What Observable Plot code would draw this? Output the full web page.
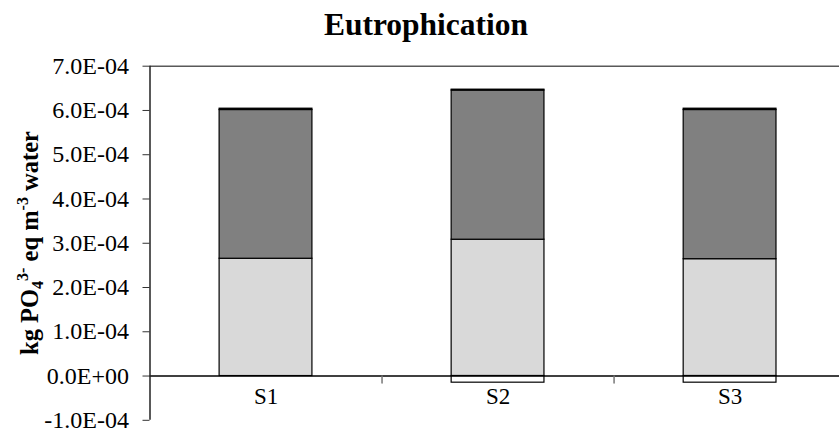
<!DOCTYPE html>
<html>
<head>
<meta charset="utf-8">
<script src="https://cdn.jsdelivr.net/npm/d3@7"></script>
<script src="https://cdn.jsdelivr.net/npm/@observablehq/plot@0.6"></script>
<style>
  html, body { margin: 0; padding: 0; background: #fff; }
  #chart svg { display: block; font-family: "Liberation Serif", "Times New Roman", serif; }
</style>
</head>
<body>
<div id="chart"></div>
<script>
// Scenarios on the category axis
const categories = ["S1", "S2", "S3"];

// Stacked contributions (kg PO4 3- eq per m3 of water)
const lowerValues = [2.65e-4, 3.08e-4, 2.64e-4];   // light grey segment
const upperValues = [3.36e-4, 3.37e-4, 3.37e-4];   // dark grey segment
const capValues = [3e-6, 2e-6, 3e-6];              // thin black segment on top
const negativeValues = [0, -1.5e-5, -1.5e-5];      // white segment below zero

// Y axis tick values
const yTicks = [-1e-4, 0, 1e-4, 2e-4, 3e-4, 4e-4, 5e-4, 6e-4, 7e-4];

// Format like 7.0E-04 / 0.0E+00
function sci(v) {
  const [m, e] = v.toExponential(1).split("e");
  const sign = e[0] === "-" ? "-" : "+";
  const digits = e.replace(/[+-]/, "").padStart(2, "0");
  return `${m}E${sign}${digits}`;
}

// Build stacked rectangles from the arrays above
const segments = [];
categories.forEach((cat, i) => {
  let base = 0;
  const parts = [
    {key: "lower", v: lowerValues[i], fill: "#d9d9d9"},
    {key: "upper", v: upperValues[i], fill: "#808080"},
    {key: "cap", v: capValues[i], fill: "#000000"}
  ];
  for (const p of parts) {
    segments.push({cat, i, y1: base, y2: base + p.v, fill: p.fill, key: p.key});
    base += p.v;
  }
  if (negativeValues[i] < 0) {
    segments.push({cat, i, y1: negativeValues[i], y2: 0, fill: "#ffffff", key: "negative"});
  }
});

const halfBar = 0.2;   // bar width as a fraction of the category step

// Short downward tick between categories on the zero line
const downTick = {
  draw(context, l) {
    context.moveTo(0, 0);
    context.lineTo(0, -l);
  }
};

const plot = Plot.plot({
  width: 839,
  height: 432,
  marginLeft: 149.5,
  marginRight: 0,
  marginTop: 65.7,
  marginBottom: 12.2,
  style: {fontFamily: "Liberation Serif", fontSize: "24px", color: "#000", background: "#fff"},
  x: {type: "linear", domain: [-0.5, 2.5], range: [149.5, 845.6], axis: null},
  y: {domain: [-1e-4, 7e-4], axis: null},
  marks: [
    // top border of the plot area
    Plot.ruleY([7e-4], {stroke: "#595959", strokeWidth: 1.5}),
    Plot.rectY(segments, {
      x1: d => d.i - halfBar,
      x2: d => d.i + halfBar,
      y1: "y1",
      y2: "y2",
      fill: "fill",
      stroke: "#000",
      strokeWidth: 1.2
    }),
    // zero line
    Plot.ruleY([0], {stroke: "#000", strokeWidth: 1.5}),
    // category separators
    Plot.vector([0.5, 1.5], {
      x: d => d, y: 0, length: 7, rotate: 180, anchor: "start",
      shape: downTick, stroke: "#777", strokeWidth: 1.5
    }),
    // category labels
    Plot.text(categories, {x: (d, i) => i, y: 0, dy: 21, text: d => d, fontSize: 23, fill: "#000"}),
    // y axis
    Plot.axisY(yTicks, {
      tickFormat: sci,
      tickSize: 7,
      tickPadding: 14,
      fontSize: 24,
      label: null,
      stroke: "#333"
    }),
    Plot.ruleX([-0.5], {stroke: "#222", strokeWidth: 1.5})
  ]
});

document.getElementById("chart").appendChild(plot);

const svg = d3.select(plot);

// Title
svg.append("text")
  .attr("x", 426)
  .attr("y", 35)
  .attr("text-anchor", "middle")
  .attr("font-family", "Liberation Serif")
  .attr("font-weight", "bold")
  .attr("font-size", 31.5)
  .attr("fill", "#000")
  .text("Eutrophication");

// Y axis title with subscript and superscripts
const yTitle = svg.append("text")
  .attr("transform", "translate(38,243) rotate(-90)")
  .attr("text-anchor", "middle")
  .attr("font-family", "Liberation Serif")
  .attr("font-weight", "bold")
  .attr("font-size", 24.5)
  .attr("fill", "#000");
yTitle.append("tspan").text("kg PO");
yTitle.append("tspan").attr("font-size", 16).attr("dy", 5).text("4");
yTitle.append("tspan").attr("font-size", 16).attr("dy", -15).text("3-");
yTitle.append("tspan").attr("dy", 10).text(" eq m");
yTitle.append("tspan").attr("font-size", 16).attr("dy", -10).text("-3");
yTitle.append("tspan").attr("dy", 10).text(" water");
</script>
</body>
</html>
